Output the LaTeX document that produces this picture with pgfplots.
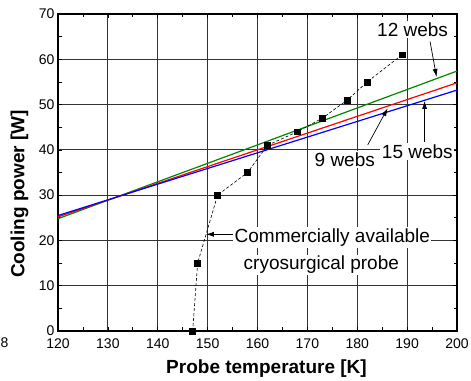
\documentclass[border=0pt]{standalone}
\usepackage{fontspec}
\setmainfont{Liberation Sans}
\usepackage{pgfplots}
\pgfplotsset{compat=1.18}
\usetikzlibrary{arrows.meta}
\definecolor{lgreen}{RGB}{0,135,0}
\begin{document}
\begin{tikzpicture}
\begin{axis}[
  name=ax,
  scale only axis, width=399bp, height=317bp,
  xmin=120, xmax=200, ymin=0, ymax=70,
  xtick={120,130,...,200}, ytick={0,10,...,70},
  minor x tick num=1, minor y tick num=1,
  grid=major,
  major grid style={line width=0.8bp, black!80},
  axis line style={line width=1.3bp, black},
  tick align=inside,
  major tick length=4bp, minor tick length=3.5bp,
  tick style={black, line width=0.7bp},
  /pgf/number format/assume math mode=true,
  ticklabel style={font=\fontsize{14bp}{16bp}\selectfont},
  xticklabel style={yshift=-4.5bp},
  xlabel={Probe temperature [K]},
  ylabel={Cooling power [W]},
  xlabel style={font=\fontsize{19bp}{22bp}\selectfont\bfseries, at={(axis description cs:0.5226,-0.12)}, anchor=center},
  ylabel style={font=\fontsize{19bp}{22bp}\selectfont\bfseries, at={(axis description cs:-0.0965,0.432)}, anchor=center},
  clip=false,
]
\addplot[lgreen, line width=1.2bp] coordinates {(120,24.8) (200,57.4)};
\addplot[red, line width=1.2bp] coordinates {(120,25.2) (200,54.8)};
\addplot[blue, line width=1.2bp] coordinates {(120,25.5) (200,53.2)};
\addplot[black, line width=0.6bp, dash pattern=on 3bp off 2bp, mark=square*, mark size=2.9bp, mark options={solid}] coordinates {
  (147,0) (148,15) (152,30) (158,35) (162,41) (168,44) (173,47) (178,51) (182,55) (189,61)
};
\draw[-{Latex[length=8bp,width=5bp]}, line width=0.7bp] (axis cs:194.6,63.9) -- (axis cs:195.9,56.1);
\draw[-{Latex[length=8bp,width=5bp]}, line width=0.7bp] (axis cs:182.1,41.1) -- (axis cs:186.1,49.2);
\draw[-{Latex[length=8bp,width=5bp]}, line width=0.7bp] (axis cs:193.5,41.8) -- (axis cs:193.5,50.8);
\draw[-{Latex[length=8bp,width=5bp]}, line width=0.7bp] (axis cs:155.1,21.35) -- (axis cs:149.66,21.35);
\node[fill=white, inner sep=1.5bp, anchor=base, font=\fontsize{19bp}{22bp}\selectfont] at (axis cs:191.1,65.1) {12 webs};
\node[fill=white, inner sep=1.5bp, anchor=base, font=\fontsize{19bp}{22bp}\selectfont] at (axis cs:177.5,36.4) {9 webs};
\node[fill=white, inner sep=1.5bp, anchor=base, font=\fontsize{19bp}{22bp}\selectfont] at (axis cs:192.05,38.1) {15 webs};
\node[fill=white, inner sep=1.5bp, anchor=base, font=\fontsize{19bp}{22bp}\selectfont] at (axis cs:175.0,19.5) {Commercially available};
\node[fill=white, inner sep=1.5bp, anchor=base, font=\fontsize{19bp}{22bp}\selectfont] at (axis cs:172.8,13.5) {cryosurgical probe};
\node[font=\fontsize{14bp}{16bp}\selectfont] at (rel axis cs:-0.134,-0.0379) {8};
\end{axis}
\pgfresetboundingbox
\path[use as bounding box] ([shift={(-58bp,-50bp)}]ax.south west) rectangle ([shift={(14bp,14bp)}]ax.north east);
\end{tikzpicture}
\end{document}
